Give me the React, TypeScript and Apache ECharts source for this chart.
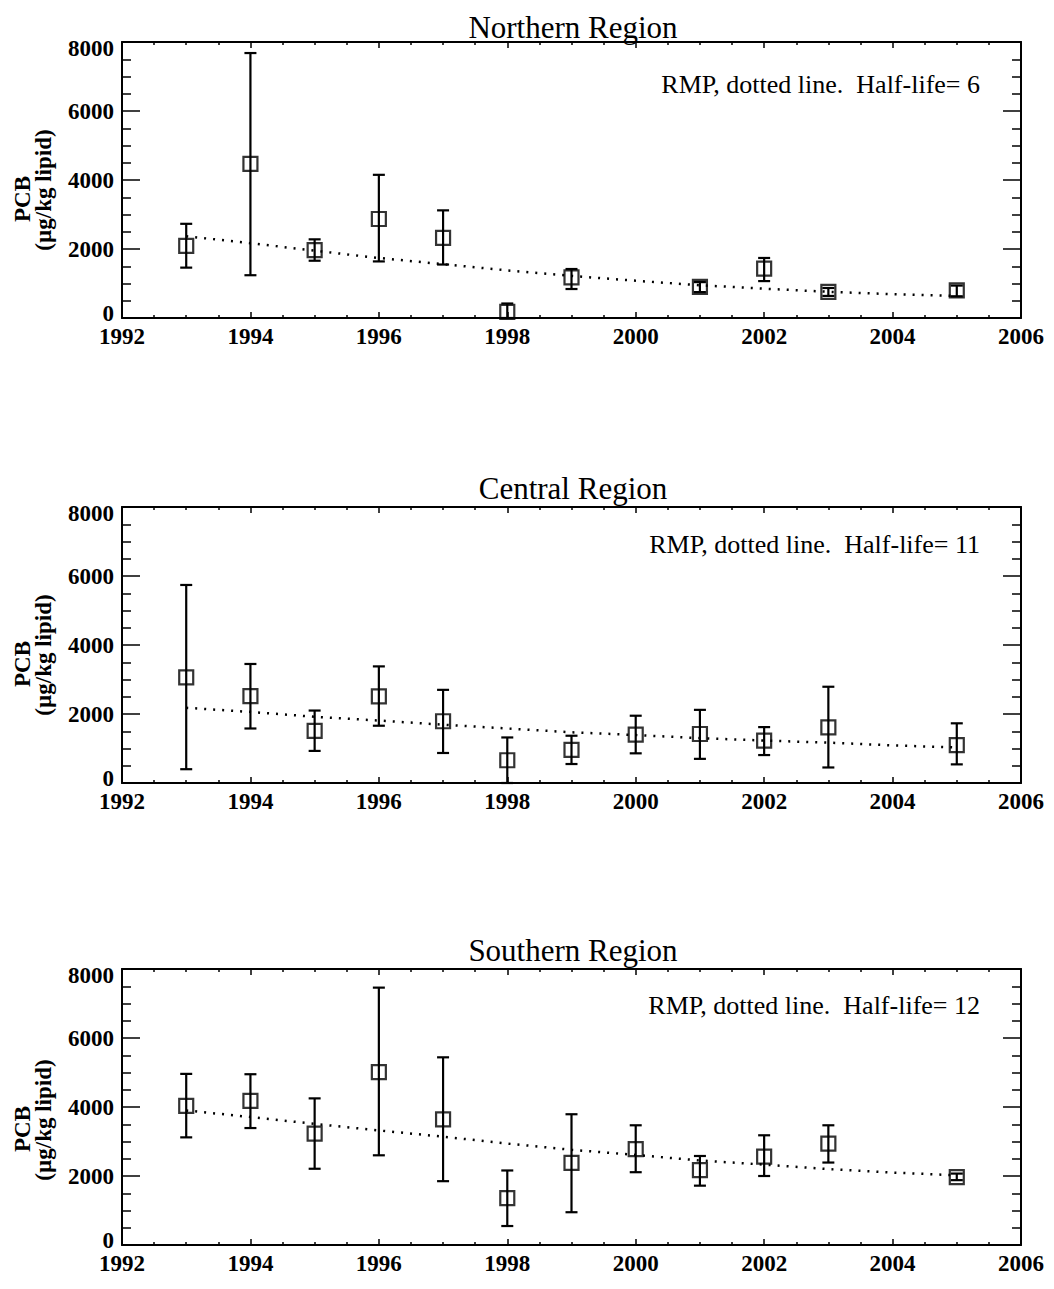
import React, { useEffect, useRef } from "react";
import * as echarts from "echarts";

const FONT = "'Liberation Serif', 'Times New Roman', Times, serif";

// Trend-line (RMP fit) years
const fitYears = [1993, 1994, 1995, 1996, 1997, 1998, 1999, 2000, 2001, 2002, 2003, 2004, 2005];

// Northern Region
const northYears = [1993, 1994, 1995, 1996, 1997, 1998, 1999, 2001, 2002, 2003, 2005];
const northMean = [2090, 4470, 1970, 2870, 2320, 180, 1180, 900, 1430, 760, 800];
const northHigh = [2730, 7680, 2280, 4150, 3120, 420, 1420, 1040, 1740, 870, 940];
const northLow = [1460, 1240, 1660, 1640, 1550, 0, 840, 750, 1070, 640, 630];
const northFit = [2370, 2170, 1950, 1740, 1560, 1380, 1220, 1080, 950, 850, 760, 690, 640];

// Central Region
const centralYears = [1993, 1994, 1995, 1996, 1997, 1998, 1999, 2000, 2001, 2002, 2003, 2005];
const centralMean = [3060, 2520, 1510, 2510, 1790, 660, 960, 1400, 1420, 1230, 1610, 1100];
const centralHigh = [5740, 3450, 2100, 3380, 2700, 1320, 1370, 1950, 2120, 1620, 2790, 1730];
const centralLow = [400, 1580, 930, 1660, 870, 0, 550, 860, 700, 810, 450, 540];
const centralFit = [2180, 2060, 1920, 1810, 1690, 1580, 1470, 1390, 1300, 1230, 1170, 1090, 1030];

// Southern Region
const southYears = [1993, 1994, 1995, 1996, 1997, 1998, 1999, 2000, 2001, 2002, 2003, 2005];
const southMean = [4030, 4180, 3230, 5010, 3640, 1360, 2380, 2780, 2170, 2560, 2940, 1970];
const southHigh = [4960, 4950, 4250, 7460, 5440, 2160, 3790, 3470, 2580, 3180, 3470, 2070];
const southLow = [3120, 3390, 2210, 2600, 1850, 550, 950, 2110, 1720, 2000, 2390, 1880];
const southFit = [3900, 3710, 3510, 3320, 3140, 2940, 2760, 2610, 2450, 2330, 2200, 2100, 2020];

const titles = ["Northern Region", "Central Region", "Southern Region"];
const halfLives = [6, 11, 12];
const xTicks = { min: 1992, max: 2006, interval: 2 };
const yTicks = { min: 0, max: 8000, interval: 2000 };

const panels = [
  { years: northYears, mean: northMean, high: northHigh, low: northLow, fit: northFit },
  { years: centralYears, mean: centralMean, high: centralHigh, low: centralLow, fit: centralFit },
  { years: southYears, mean: southMean, high: southHigh, low: southLow, fit: southFit },
];

// layout
const gridTops = [42, 507, 969];
const GRID_LEFT = 122;
const GRID_W = 899;
const GRID_H = 276;
const titleYs = [27, 488, 950];
const noteYs = [84, 544, 1005];
const pcbYs = [199, 664, 1129];
const unitYs = [190, 655, 1120];

export default function App() {
  const ref = useRef<HTMLDivElement>(null);

  useEffect(() => {
    if (!ref.current) return;
    const chart = echarts.init(ref.current, undefined, { renderer: "svg" });

    const axisLineStyle = { color: "#000", width: 2 };
    const tickStyle = { color: "#000", width: 1.5 };
    const labelBase = {
      color: "#000",
      fontFamily: FONT,
      fontWeight: "bold",
      fontSize: 23,
    };

    const xAxes: any[] = [];
    const yAxes: any[] = [];
    const series: any[] = [];
    const graphics: any[] = [];

    panels.forEach((p, i) => {
      ["bottom", "top"].forEach((pos) => {
        xAxes.push({
          type: "value",
          gridIndex: i,
          position: pos,
          min: xTicks.min,
          max: xTicks.max,
          interval: xTicks.interval,
          axisLine: { show: true, onZero: false, lineStyle: axisLineStyle },
          axisTick: { show: true, inside: true, length: 6, lineStyle: tickStyle },
          minorTick: { show: true, splitNumber: 4, length: 3, lineStyle: tickStyle },
          splitLine: { show: false },
          axisLabel: {
            show: pos === "bottom",
            ...labelBase,
            margin: 7,
            formatter: (v: number) => String(v),
          },
        });
      });
      ["left", "right"].forEach((pos) => {
        yAxes.push({
          type: "value",
          gridIndex: i,
          position: pos,
          min: yTicks.min,
          max: yTicks.max,
          interval: yTicks.interval,
          axisLine: { show: true, onZero: false, lineStyle: axisLineStyle },
          axisTick: { show: true, inside: true, length: 18, lineStyle: tickStyle },
          minorTick: { show: true, splitNumber: 4, length: 9, lineStyle: tickStyle },
          splitLine: { show: false },
          axisLabel: {
            show: pos === "left",
            ...labelBase,
            margin: 8,
            formatter: (v: number) =>
              v === yTicks.min ? "{lo|" + v + "}" : v === yTicks.max ? "{hi|" + v + "}" : String(v),
            rich: {
              lo: { ...labelBase, padding: [0, 0, 10, 0] },
              hi: { ...labelBase, padding: [12, 0, 0, 0] },
            },
          },
        });
      });

      const ax = 2 * i;
      series.push({
        type: "line",
        xAxisIndex: ax,
        yAxisIndex: ax,
        data: fitYears.map((y, k) => [y, p.fit[k]]),
        symbol: "none",
        silent: true,
        lineStyle: { color: "#000", width: 2.5, type: [2, 7] },
        z: 1,
      });
      series.push({
        type: "custom",
        xAxisIndex: ax,
        yAxisIndex: ax,
        data: p.years.map((y, k) => [y, p.low[k], p.high[k]]),
        encode: { x: 0, y: [1, 2] },
        renderItem: (_params: any, api: any) => {
          const x = api.value(0);
          const lo = api.coord([x, api.value(1)]);
          const hi = api.coord([x, api.value(2)]);
          const w = 6;
          const st = { stroke: "#000", lineWidth: 2.2 };
          return {
            type: "group",
            children: [
              { type: "line", shape: { x1: lo[0], y1: lo[1], x2: hi[0], y2: hi[1] }, style: st },
              { type: "line", shape: { x1: hi[0] - w, y1: hi[1], x2: hi[0] + w, y2: hi[1] }, style: st },
              { type: "line", shape: { x1: lo[0] - w, y1: lo[1], x2: lo[0] + w, y2: lo[1] }, style: st },
            ],
          };
        },
        z: 2,
      });
      series.push({
        type: "scatter",
        xAxisIndex: ax,
        yAxisIndex: ax,
        data: p.years.map((y, k) => [y, p.mean[k]]),
        symbol: "rect",
        symbolSize: 14,
        itemStyle: { color: "rgba(0,0,0,0)", borderColor: "#000", borderWidth: 2.2 },
        z: 3,
      });

      graphics.push({
        type: "text",
        x: 573,
        y: titleYs[i],
        style: {
          text: titles[i],
          fontFamily: FONT,
          fontSize: 31,
          fill: "#000",
          align: "center",
          verticalAlign: "middle",
        },
      });
      graphics.push({
        type: "text",
        x: 980,
        y: noteYs[i],
        style: {
          text: "RMP, dotted line.  Half-life= " + halfLives[i],
          fontFamily: FONT,
          fontSize: 26,
          fill: "#000",
          align: "right",
          verticalAlign: "middle",
        },
      });
      graphics.push({
        type: "text",
        x: 22,
        y: pcbYs[i],
        rotation: Math.PI / 2,
        style: {
          text: "PCB",
          fontFamily: FONT,
          fontWeight: "bold",
          fontSize: 23,
          fill: "#000",
          align: "center",
          verticalAlign: "middle",
        },
      });
      graphics.push({
        type: "text",
        x: 43,
        y: unitYs[i],
        rotation: Math.PI / 2,
        style: {
          text: "(µg/kg lipid)",
          fontFamily: FONT,
          fontWeight: "bold",
          fontSize: 23,
          fill: "#000",
          align: "center",
          verticalAlign: "middle",
        },
      });
    });

    chart.setOption({
      animation: false,
      backgroundColor: "#fff",
      grid: panels.map((_, i) => ({
        left: GRID_LEFT,
        top: gridTops[i],
        width: GRID_W,
        height: GRID_H,
        containLabel: false,
      })),
      xAxis: xAxes,
      yAxis: yAxes,
      series,
      graphic: graphics,
    });

    return () => chart.dispose();
  }, []);

  return (
    <div
      ref={ref}
      style={{ position: "absolute", left: 0, top: 0, width: 1054, height: 1289 }}
    />
  );
}
